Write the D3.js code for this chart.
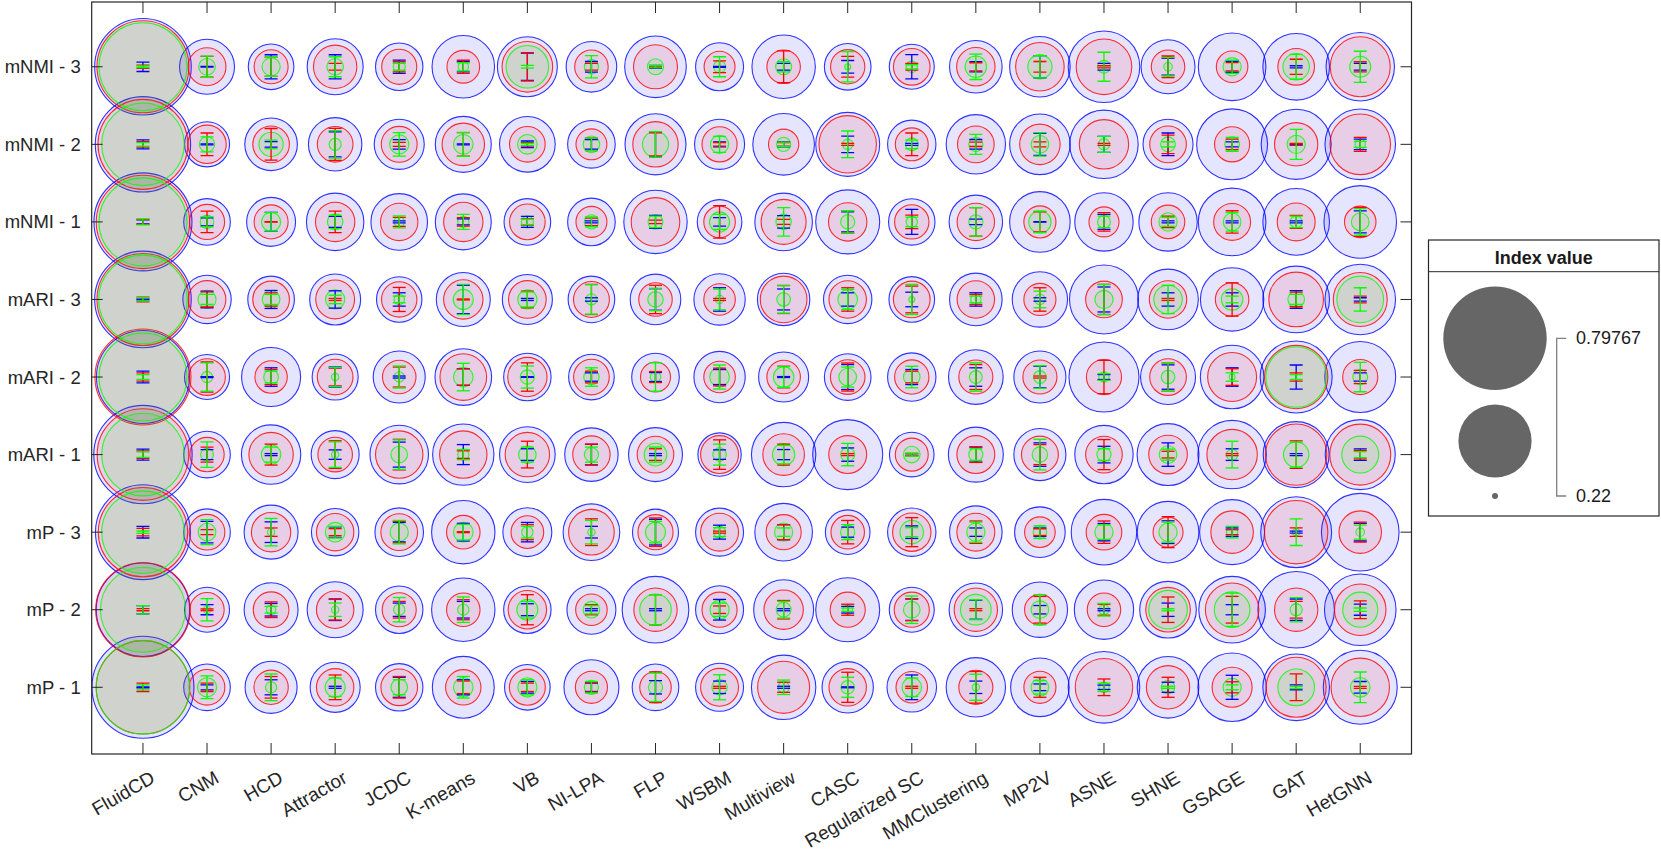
<!DOCTYPE html>
<html><head><meta charset="utf-8">
<script src="https://cdn.jsdelivr.net/npm/d3@7"></script>
<style>
body{margin:0;background:#fff;}
text{font-family:"Liberation Sans",Arial,Helvetica,sans-serif;}
</style></head>
<body><svg id="chart" width="1661" height="854"></svg>
<script>
const methods = ["FluidCD","CNM","HCD","Attractor","JCDC","K-means","VB","NI-LPA","FLP","WSBM","Multiview","CASC","Regularized SC","MMClustering","MP2V","ASNE","SHNE","GSAGE","GAT","HetGNN"];
const metrics = ["mNMI - 3","mNMI - 2","mNMI - 1","mARI - 3","mARI - 2","mARI - 1","mP - 3","mP - 2","mP - 1"];
const legendValues = [0.79767, 0.50884, 0.22];
const legendLabels = ["0.79767","0.22"];

const blueVal = [
[.724,.382,.331,.388,.340,.430,.413,.357,.424,.343,.436,.336,.328,.368,.417,.496,.376,.466,.459,.472],
[.711,.328,.368,.373,.354,.388,.386,.341,.420,.354,.424,.440,.345,.409,.417,.472,.354,.491,.484,.488],
[.739,.336,.348,.397,.392,.388,.336,.341,.436,.326,.398,.440,.335,.373,.417,.403,.403,.466,.459,.504],
[.724,.345,.336,.359,.330,.376,.354,.336,.357,.361,.367,.345,.331,.368,.384,.476,.417,.436,.459,.488],
[.687,.328,.407,.333,.365,.392,.340,.331,.341,.361,.354,.336,.345,.380,.365,.484,.382,.437,.499,.491],
[.743,.336,.409,.343,.404,.422,.386,.373,.376,.320,.443,.484,.326,.382,.365,.403,.426,.472,.454,.484],
[.707,.336,.376,.340,.346,.436,.348,.392,.333,.343,.398,.326,.345,.368,.357,.451,.424,.447,.491,.545],
[.691,.328,.376,.388,.340,.436,.340,.348,.459,.343,.413,.440,.328,.373,.384,.409,.392,.459,.536,.496],
[.782,.336,.365,.354,.340,.426,.331,.382,.336,.343,.443,.361,.351,.409,.404,.496,.424,.472,.459,.515]];
const redVal = [
[.677,.296,.281,.320,.285,.276,.357,.279,.323,.270,.279,.282,.291,.298,.346,.386,.279,.272,.291,.413],
[.657,.298,.291,.287,.288,.316,.287,.270,.330,.285,.268,.397,.277,.291,.307,.350,.291,.285,.320,.417],
[.691,.285,.281,.302,.294,.302,.287,.270,.346,.272,.328,.298,.282,.294,.274,.267,.279,.292,.296,.272],
[.677,.295,.291,.300,.286,.302,.295,.288,.279,.272,.336,.294,.291,.294,.274,.291,.294,.279,.380,.376],
[.718,.291,.275,.287,.279,.336,.302,.287,.267,.272,.279,.283,.282,.281,.281,.285,.291,.348,.436,.285],
[.673,.282,.325,.283,.340,.340,.325,.294,.291,.296,.312,.296,.277,.296,.292,.291,.299,.356,.422,.420],
[.651,.287,.302,.294,.291,.279,.276,.331,.285,.296,.285,.279,.298,.296,.269,.287,.267,.316,.436,.316],
[.703,.282,.287,.294,.281,.279,.298,.272,.320,.285,.302,.285,.285,.320,.269,.279,.326,.373,.320,.362],
[.691,.287,.282,.294,.291,.286,.288,.274,.272,.296,.365,.294,.272,.281,.274,.397,.320,.305,.413,.403]];
const greenVal = [
[.638,.233,.236,.233,.226,.224,.316,.229,.232,.226,.232,.220,.225,.243,.250,.227,.222,.236,.256,.242],
[.588,.231,.250,.226,.238,.239,.239,.233,.255,.236,.229,.224,.227,.229,.235,.225,.230,.230,.236,.224],
[.638,.228,.238,.231,.224,.225,.226,.229,.230,.240,.231,.229,.225,.229,.245,.227,.236,.235,.226,.235],
[.644,.236,.235,.238,.224,.240,.238,.225,.231,.222,.228,.239,.220,.224,.224,.236,.262,.243,.233,.336],
[.638,.225,.230,.221,.224,.239,.229,.231,.224,.239,.241,.235,.233,.227,.227,.224,.228,.220,.417,.230],
[.588,.227,.239,.221,.233,.225,.235,.229,.246,.228,.245,.229,.233,.229,.231,.229,.235,.225,.253,.292],
[.588,.235,.221,.239,.236,.239,.225,.221,.240,.226,.236,.229,.248,.236,.228,.236,.236,.225,.221,.222],
[.610,.221,.223,.221,.225,.225,.242,.233,.272,.238,.230,.223,.233,.269,.235,.224,.299,.287,.226,.285],
[.693,.238,.225,.240,.233,.239,.238,.229,.229,.231,.225,.228,.239,.221,.235,.224,.228,.236,.291,.239]];

const blueErr = [
[.061,.004,.155,.155,.086,.065,.177,.068,.019,.006,.043,.081,.157,.065,.144,.043,.107,.071,.013,.043],
[.058,.006,.035,.161,.061,.006,.043,.061,.161,.032,.032,.107,.013,.062,.142,.103,.146,.032,.006,.068],
[.026,.052,.123,.071,.013,.039,.071,.013,.084,.054,.081,.129,.161,.036,.004,.097,.013,.013,.013,.142],
[.006,.107,.116,.112,.086,.183,.013,.022,.139,.151,.135,.086,.094,.086,.022,.161,.086,.086,.114,.022],
[.075,.006,.119,.129,.013,.107,.004,.054,.058,.097,.006,.161,.097,.119,.139,.032,.157,.119,.155,.054],
[.071,.065,.013,.061,.161,.129,.075,.133,.013,.061,.065,.086,.013,.097,.151,.107,.151,.075,.013,.075],
[.075,.139,.133,.068,.125,.114,.125,.075,.165,.090,.097,.065,.081,.054,.054,.112,.146,.054,.013,.114],
[.054,.065,.081,.139,.086,.107,.077,.013,.013,.133,.013,.043,.139,.123,.054,.013,.086,.065,.138,.071],
[.006,.032,.097,.013,.129,.097,.075,.054,.086,.080,.013,.006,.159,.080,.043,.028,.065,.155,.032,.075]];
const redErr = [
[.022,.135,.125,.043,.065,.084,.183,.043,.006,.075,.206,.133,.043,.052,.068,.013,.139,.054,.097,.065],
[.035,.146,.204,.206,.026,.151,.022,.080,.148,.022,.022,.013,.146,.028,.032,.013,.119,.068,.013,.090],
[.032,.139,.004,.139,.058,.054,.041,.049,.022,.209,.032,.146,.088,.183,.129,.119,.075,.144,.084,.187],
[.030,.097,.086,.013,.155,.006,.107,.194,.183,.013,.181,.151,.172,.065,.151,.194,.013,.215,.094,.043],
[.054,.194,.097,.114,.129,.107,.183,.075,.071,.114,.139,.181,.075,.161,.013,.215,.183,.107,.054,.086],
[.049,.097,.135,.178,.197,.049,.172,.135,.075,.190,.135,.013,.013,.101,.129,.194,.043,.013,.178,.054],
[.048,.032,.054,.045,.139,.006,.097,.172,.183,.013,.097,.151,.187,.144,.043,.144,.200,.032,.054,.129],
[.013,.010,.101,.133,.107,.129,.194,.065,.194,.048,.119,.071,.139,.013,.172,.071,.164,.172,.107,.114],
[.054,.054,.139,.159,.139,.081,.054,.061,.197,.013,.065,.194,.013,.204,.129,.107,.129,.071,.172,.013]];
const greenErr = [
[.010,.138,.123,.129,.045,.052,.017,.144,.013,.129,.065,.194,.026,.164,.144,.187,.119,.086,.161,.200],
[.022,.097,.055,.177,.151,.155,.013,.080,.165,.103,.028,.172,.055,.129,.151,.103,.032,.090,.194,.039],
[.039,.065,.119,.088,.077,.097,.035,.065,.075,.097,.183,.144,.061,.183,.139,.075,.058,.119,.075,.172],
[.022,.065,.065,.054,.043,.194,.097,.190,.144,.133,.177,.129,.194,.043,.107,.194,.183,.043,.065,.151],
[.032,.183,.075,.123,.142,.177,.142,.119,.183,.155,.133,.129,.139,.183,.146,.043,.183,.054,.032,.190],
[.036,.165,.097,.165,.190,.065,.097,.097,.097,.135,.119,.144,.019,.075,.197,.075,.071,.172,.161,.039],
[.015,.161,.177,.075,.151,.101,.075,.151,.139,.058,.054,.097,.058,.129,.081,.093,.129,.075,.172,.090],
[.054,.144,.043,.086,.157,.164,.107,.054,.194,.086,.107,.022,.177,.129,.194,.081,.013,.215,.157,.022],
[.032,.146,.172,.119,.097,.139,.097,.075,.183,.161,.093,.129,.119,.168,.086,.054,.013,.032,.013,.197]];

const series = [
  {name:"blue", color:"#0000ff", val:blueVal, err:blueErr},
  {name:"red", color:"#ff0000", val:redVal, err:redErr},
  {name:"green", color:"#00ff00", val:greenVal, err:greenErr}
];

const svg = d3.select("#chart");
const axisColor = "#262626";
const L = 91.7, R = 1411.5, T = 2, B = 754;
const x = d3.scaleLinear().domain([0.2, 20.8]).range([L, R]);
const y = d3.scaleLinear().domain([0.14, 9.835]).range([B, T]);
const nRows = metrics.length;
const rowPos = i => nRows - i;
const area = d3.scaleLinear().domain([0.22, 0.79767]).range([9, 2673]);
const rad = v => Math.sqrt(Math.max(0, area(v)));

svg.append("rect").attr("width",1661).attr("height",854).attr("fill","#fff");
svg.append("defs").append("clipPath").attr("id","clip")
  .append("rect").attr("x",L).attr("y",T).attr("width",R-L).attr("height",B-T);

const plot = svg.append("g").attr("clip-path","url(#clip)");

// bubbles
series.forEach(s => {
  const data = [];
  s.val.forEach((row,i) => row.forEach((v,j) => data.push({i,j,v})));
  plot.append("g").selectAll("circle").data(data).join("circle")
    .attr("cx", d => x(d.j+1)).attr("cy", d => y(rowPos(d.i)))
    .attr("r", d => rad(d.v))
    .attr("fill", s.color).attr("fill-opacity", 0.1)
    .attr("stroke", s.color).attr("stroke-opacity", 0.8).attr("stroke-width", 1.1);
});

// error bars
const capHalf = 6.5;
series.forEach(s => {
  const data = [];
  s.err.forEach((row,i) => row.forEach((e,j) => data.push({i,j,e})));
  const g = plot.append("g").attr("stroke", s.color).attr("stroke-width", 1.3).attr("fill","none");
  const eg = g.selectAll("g").data(data).join("g");
  eg.append("line")
    .attr("x1", d => x(d.j+1)).attr("x2", d => x(d.j+1))
    .attr("y1", d => y(rowPos(d.i)+d.e)).attr("y2", d => y(rowPos(d.i)-d.e));
  eg.append("line")
    .attr("x1", d => x(d.j+1)-capHalf).attr("x2", d => x(d.j+1)+capHalf)
    .attr("y1", d => y(rowPos(d.i)+d.e)).attr("y2", d => y(rowPos(d.i)+d.e));
  eg.append("line")
    .attr("x1", d => x(d.j+1)-capHalf).attr("x2", d => x(d.j+1)+capHalf)
    .attr("y1", d => y(rowPos(d.i)-d.e)).attr("y2", d => y(rowPos(d.i)-d.e));
});

// axes box + ticks
const tickLen = 11;
const ax = svg.append("g").attr("stroke", axisColor).attr("fill","none");
ax.append("rect").attr("x",L).attr("y",T).attr("width",R-L).attr("height",B-T).attr("stroke-width",1.2);
const xt = d3.range(1, methods.length+1);
ax.selectAll(".xtb").data(xt).join("line")
  .attr("x1", d=>x(d)).attr("x2", d=>x(d)).attr("y1", B).attr("y2", B-tickLen);
ax.selectAll(".xtt").data(xt).join("line").attr("class","xtt")
  .attr("x1", d=>x(d)).attr("x2", d=>x(d)).attr("y1", T).attr("y2", T+tickLen);
const yt = d3.range(1, nRows+1);
ax.selectAll(".ytl").data(yt).join("line").attr("class","ytl")
  .attr("x1", L).attr("x2", L+tickLen).attr("y1", d=>y(d)).attr("y2", d=>y(d));
ax.selectAll(".ytr").data(yt).join("line").attr("class","ytr")
  .attr("x1", R).attr("x2", R-tickLen).attr("y1", d=>y(d)).attr("y2", d=>y(d));

// y labels
svg.append("g").selectAll("text").data(metrics).join("text")
  .attr("x", L - 11).attr("y", (d,i) => y(rowPos(i)))
  .attr("text-anchor","end").attr("dominant-baseline","central")
  .attr("font-size", 18.5).attr("fill", axisColor).text(d => d);

// x labels
svg.append("g").selectAll("text").data(methods).join("text")
  .attr("transform", (d,j) => `translate(${x(j+1)+10},${B+22}) rotate(-30)`)
  .attr("text-anchor","end").attr("dominant-baseline","central")
  .attr("font-size", 19).attr("fill", axisColor).text(d => d);

// legend
const lg = svg.append("g");
const LX0 = 1428.5, LX1 = 1659, LY0 = 240, LY1 = 516, LYT = 271.7;
lg.append("rect").attr("x",LX0).attr("y",LY0).attr("width",LX1-LX0).attr("height",LY1-LY0)
  .attr("fill","#fff").attr("stroke",axisColor).attr("stroke-width",1.2);
lg.append("line").attr("x1",LX0).attr("x2",LX1).attr("y1",LYT).attr("y2",LYT).attr("stroke",axisColor).attr("stroke-width",1);
lg.append("text").attr("x",(LX0+LX1)/2).attr("y",264).attr("text-anchor","middle")
  .attr("font-size",18).attr("font-weight","bold").attr("fill","#1a1a1a").text("Index value");
const legY = [338.3, 441, 496];
lg.selectAll("circle").data(legendValues).join("circle")
  .attr("cx",1495).attr("cy",(d,i)=>legY[i]).attr("r", d=>rad(d)).attr("fill","#666666");
const bx = 1556.7;
lg.append("path").attr("d",`M${bx+9.5},${legY[0]}H${bx}V${legY[2]}H${bx+9.5}`)
  .attr("fill","none").attr("stroke","#808080").attr("stroke-width",1.3);
lg.selectAll(".ll").data(legendLabels).join("text")
  .attr("x",1576).attr("y",(d,i)=> i===0?legY[0]:legY[2]).attr("dominant-baseline","central")
  .attr("font-size",18).attr("fill","#1a1a1a").text(d=>d);
</script></body></html>
